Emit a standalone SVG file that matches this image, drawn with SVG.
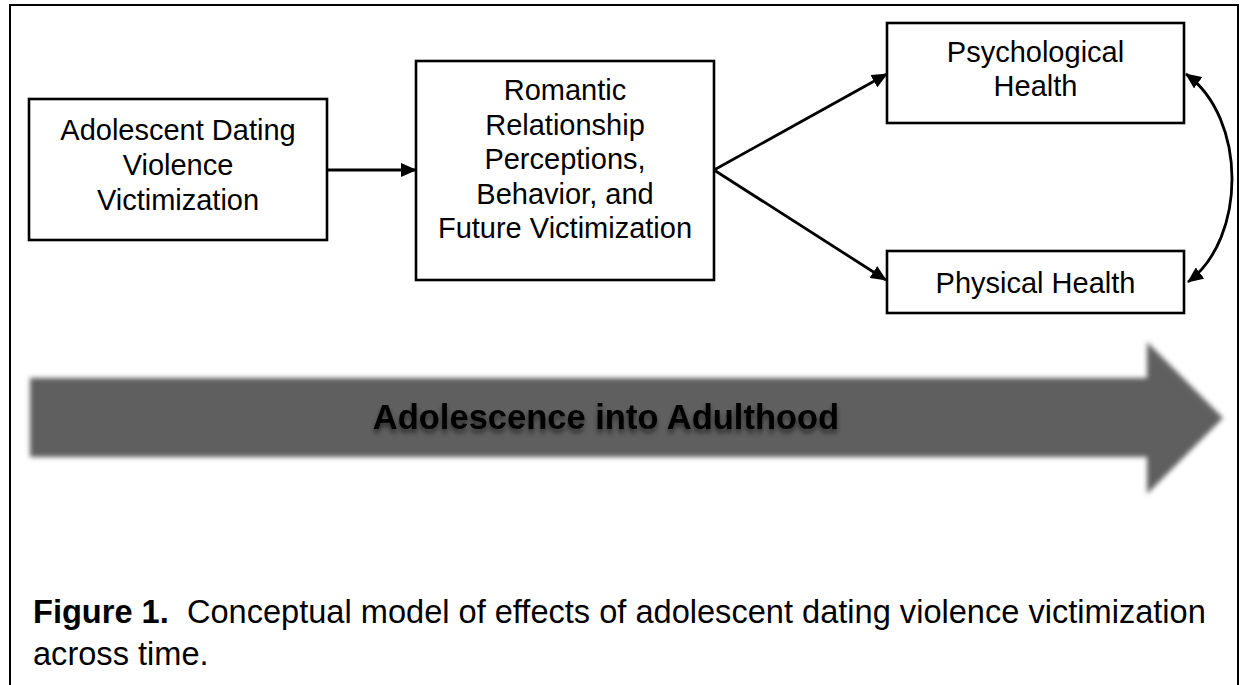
<svg xmlns="http://www.w3.org/2000/svg" width="1243" height="685" viewBox="0 0 1243 685">
  <style>
    .box { fill: #ffffff; stroke: #000000; stroke-width: 2.6; }
    .lbl { font-family: "Liberation Sans", Arial, sans-serif; font-size: 29px; fill: #000000; text-anchor: middle; }
    .edge { fill: none; stroke: #000000; stroke-width: 2.8; }
    .frame { fill: none; stroke: #000000; stroke-width: 2; }
    .cap { font-family: "Liberation Sans", Arial, sans-serif; font-size: 32.6px; fill: #000000; }
    .band-text { font-family: "Liberation Sans", Arial, sans-serif; font-size: 34.5px; font-weight: bold; fill: #000000; text-anchor: middle; }
  </style>
  <defs>
    <marker id="head" viewBox="0 0 16 14" refX="15" refY="7" markerWidth="16" markerHeight="14" markerUnits="userSpaceOnUse" orient="auto-start-reverse">
      <path d="M0,0 L16,7 L0,14 Z" fill="#000000"/>
    </marker>
    <filter id="soft" x="-5%" y="-20%" width="110%" height="140%">
      <feGaussianBlur stdDeviation="2.5"/>
    </filter>
    <filter id="textShadow" x="-10%" y="-40%" width="120%" height="190%">
      <feDropShadow dx="0" dy="4" stdDeviation="2.5" flood-color="#000000" flood-opacity="0.55"/>
    </filter>
  </defs>

  <rect width="1243" height="685" fill="#ffffff"/>

  <!-- open frame: left, top and right sides -->
  <path class="frame" d="M10,685 L10,5 L1238,5 L1238,685"/>

  <!-- time band -->
  <g id="time-arrow">
    <polygon points="30,378 1147,378 1147,342 1223,418 1147,494 1147,457 30,457" fill="#5e5e5e" filter="url(#soft)"/>
    <text class="band-text" x="606" y="429" filter="url(#textShadow)">Adolescence into Adulthood</text>
  </g>

  <g id="connectors">
    <line class="edge" x1="327" y1="170" x2="416" y2="170" marker-end="url(#head)"/>
    <line class="edge" x1="714" y1="170" x2="887" y2="74" marker-end="url(#head)"/>
    <line class="edge" x1="714" y1="170" x2="886" y2="280" marker-end="url(#head)"/>
    <path class="edge" d="M1186,74 C1247,118 1247,238 1188,282" marker-start="url(#head)" marker-end="url(#head)"/>
  </g>

  <g id="node-advv">
    <rect class="box" x="29" y="99" width="298" height="141"/>
    <text class="lbl" x="178" y="140">Adolescent Dating</text>
    <text class="lbl" x="178" y="175">Violence</text>
    <text class="lbl" x="178" y="210">Victimization</text>
  </g>

  <g id="node-romantic">
    <rect class="box" x="416" y="61" width="298" height="219"/>
    <text class="lbl" x="565" y="100">Romantic</text>
    <text class="lbl" x="565" y="134.5">Relationship</text>
    <text class="lbl" x="565" y="169">Perceptions,</text>
    <text class="lbl" x="565" y="203.5">Behavior, and</text>
    <text class="lbl" x="565" y="238">Future Victimization</text>
  </g>

  <g id="node-psych">
    <rect class="box" x="887" y="23" width="297" height="100"/>
    <text class="lbl" x="1035.5" y="62">Psychological</text>
    <text class="lbl" x="1035.5" y="96">Health</text>
  </g>

  <g id="node-physical">
    <rect class="box" x="887" y="251" width="297" height="62"/>
    <text class="lbl" x="1035.5" y="293">Physical Health</text>
  </g>

  <g id="caption">
    <text class="cap" x="33" y="623"><tspan font-weight="bold">Figure 1.</tspan><tspan xml:space="preserve">  Conceptual model of effects of adolescent dating violence victimization</tspan></text>
    <text class="cap" x="33" y="665">across time.</text>
  </g>
</svg>
